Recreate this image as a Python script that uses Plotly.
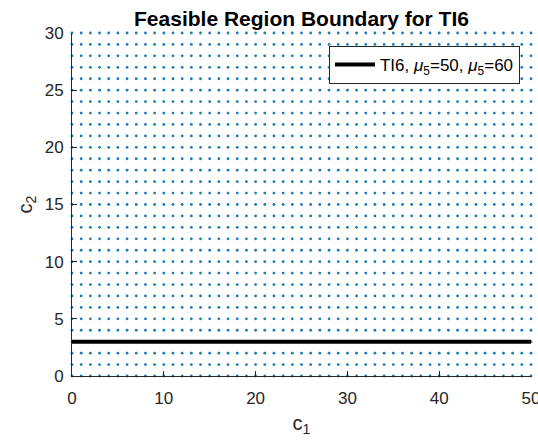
import numpy as np
import plotly.graph_objects as go

# Candidate grid of integer (c1, c2) pairs
c1_values = list(range(0, 51))
c2_values = list(range(0, 31))

# Boundary line: c2 = 3 across the c1 range
boundary_c1 = [0, 50]
boundary_c2 = [3, 3]

x_ticks = [0, 10, 20, 30, 40, 50]
y_ticks = [0, 5, 10, 15, 20, 25, 30]

gx, gy = np.meshgrid(c1_values, c2_values)

fig = go.Figure()
fig.add_trace(go.Scatter(
    x=gx.ravel(), y=gy.ravel(), mode="markers",
    marker=dict(color="#1a7ab8", size=2.8, line=dict(width=0)),
    showlegend=False, cliponaxis=False, hoverinfo="skip",
))
fig.add_trace(go.Scatter(
    x=boundary_c1, y=boundary_c2, mode="lines",
    line=dict(color="black", width=4),
    name="TI6, <i>μ</i><sub>5</sub>=50, <i>μ</i><sub>5</sub>=60",
    cliponaxis=False,
))

axis_common = dict(
    showgrid=False, zeroline=False, showline=True, linecolor="#262626",
    linewidth=1, ticks="inside", ticklen=5, tickcolor="#262626",
    tickfont=dict(size=17, color="#262626", family="Liberation Sans"),
    ticklabeloverflow="allow", automargin=False,
)

fig.update_layout(
    width=538, height=443,
    margin=dict(l=72, r=7, t=33, b=67),
    paper_bgcolor="white", plot_bgcolor="white",
    font=dict(family="Liberation Sans", color="#262626"),
    title=dict(text="<b>Feasible Region Boundary for TI6</b>",
               xref="paper", x=0.5, xanchor="center",
               yref="container", y=0.957, yanchor="middle",
               font=dict(size=21, color="black")),
    xaxis=dict(range=[0, 50], tickvals=x_ticks, ticklabelstandoff=7,
               title=dict(text="c<sub>1</sub>", font=dict(size=20), standoff=8),
               **axis_common),
    yaxis=dict(range=[0, 30], tickvals=y_ticks, ticklabelstandoff=4,
               title=dict(text="c<sub>2</sub>", font=dict(size=20), standoff=6),
               **axis_common),
    legend=dict(x=0.976, y=0.962, xanchor="right", yanchor="top",
                bgcolor="white", bordercolor="#262626", borderwidth=1,
                font=dict(size=17, color="black"), itemwidth=40,
                tracegroupgap=0),
)

fig.write_html("out.html")
